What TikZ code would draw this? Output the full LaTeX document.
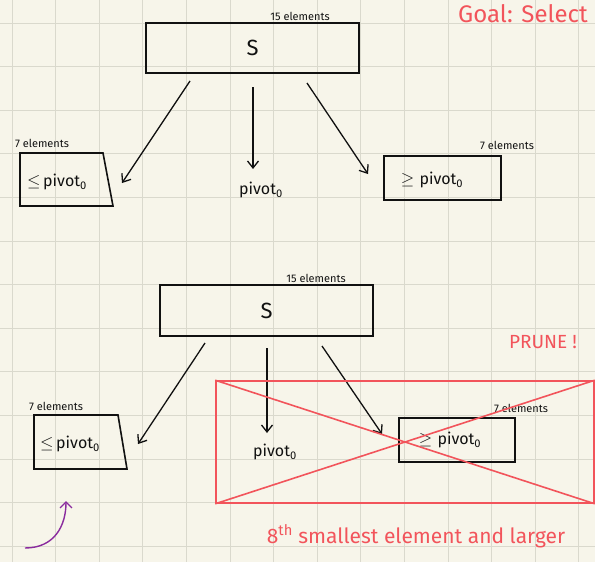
\documentclass[tikz,border=0pt]{standalone}
\usepackage{fontspec}
\setmainfont{Fira Sans}
\usetikzlibrary{arrows.meta}
\definecolor{paper}{HTML}{F7F5EA}
\definecolor{gridc}{HTML}{DAD9CD}
\definecolor{pen}{HTML}{111111}
\definecolor{marker}{HTML}{F2545B}
\definecolor{plum}{HTML}{8A2B9E}
\begin{document}
\begin{tikzpicture}[x=1pt,y=-1pt,
  box/.style={draw=pen,line width=1.6pt,inner sep=0pt},
  link/.style={draw=pen,line width=1.3pt,-{Straight Barb[length=7pt,width=11pt]}},
  note/.style={text=pen,font=\fontsize{11}{11}\selectfont,inner sep=0pt},
  label/.style={text=pen,font=\fontsize{16}{16}\selectfont,inner sep=0pt},
  bigS/.style={text=pen,font=\fontsize{22}{22}\selectfont},
  redtext/.style={text=marker,inner sep=0pt}]
% paper and grid
\useasboundingbox (0,0) rectangle (595,562);
\fill[paper] (0,0) rectangle (595,562);
\foreach \i in {0,...,13} {
  \draw[gridc,line width=1pt] ({12+43.6*\i},0) -- ({12+43.6*\i},562);
}
\foreach \j in {0,...,12} {
  \draw[gridc,line width=1pt] (0,{23+43.6*\j}) -- (595,{23+43.6*\j});
}

% ---------- first split ----------
\node[box,minimum width=213pt,minimum height=50pt,bigS] (S1) at (252.5,48) {S};
\node[note] (n1) at (300,16) {15 elements};
\node[redtext,font=\fontsize{24}{24}\selectfont,anchor=west] (goal) at (458,14) {Goal: Select};

\coordinate (a1s) at (190,81);  \coordinate (a1e) at (122,183);
\coordinate (b1s) at (253,87);  \coordinate (b1e) at (253,169);
\coordinate (c1s) at (307,83);  \coordinate (c1e) at (368,174);
\draw[link] (a1s) -- (a1e);
\draw[link] (b1s) -- (b1e);
\draw[link] (c1s) -- (c1e);

\coordinate (L1a) at (20,153); \coordinate (L1b) at (103,153);
\coordinate (L1c) at (113,206); \coordinate (L1d) at (20,206);
\draw[box,line join=miter] (L1a) -- (L1b) -- (L1c) -- (L1d) -- cycle;
\node[label] (le1) at (57,182) {$\leq$\,pivot\textsubscript{0}};
\node[note] (n2) at (42,143) {7 elements};

\node[label] (p1) at (261,190) {pivot\textsubscript{0}};

\node[box,minimum width=117pt,minimum height=44pt] (R1) at (442.5,178) {};
\node[label] (ge1) at (432,180) {$\geq$\,\,pivot\textsubscript{0}};
\node[note] (n3) at (507,145) {7 elements};

% ---------- second split ----------
\node[box,minimum width=213pt,minimum height=51pt,bigS] (S2) at (266.5,310.5) {S};
\node[note] (n4) at (316,278) {15 elements};
\node[redtext,font=\fontsize{19}{19}\selectfont] (prune) at (543,342) {PRUNE !};

\coordinate (a2s) at (205,343); \coordinate (a2e) at (138,444);
\coordinate (b2s) at (267,348); \coordinate (b2e) at (267,433);
\coordinate (c2s) at (322,346); \coordinate (c2e) at (382,434);
\draw[link] (a2s) -- (a2e);
\draw[link] (b2s) -- (b2e);
\draw[link] (c2s) -- (c2e);

\coordinate (L2a) at (34,415); \coordinate (L2b) at (118,415);
\coordinate (L2c) at (127,469); \coordinate (L2d) at (34,469);
\draw[box,line join=miter] (L2a) -- (L2b) -- (L2c) -- (L2d) -- cycle;
\node[label] (le2) at (70,444) {$\leq$\,pivot\textsubscript{0}};
\node[note] (n5) at (56,406) {7 elements};

\node[label] (p2) at (275,452) {pivot\textsubscript{0}};

\node[box,minimum width=116pt,minimum height=44pt] (R2) at (457,440) {};
\node[label] (ge2) at (450,440) {$\geq$\,\,pivot\textsubscript{0}};
\node[note] (n6) at (521,408) {7 elements};

% crossed-out region
\node[draw=marker,line width=1.6pt,minimum width=378pt,minimum height=122pt,inner sep=0pt] (cut) at (405,442) {};
\draw[marker,line width=1.6pt] (cut.north west) -- (cut.south east);
\draw[marker,line width=1.6pt] (cut.south west) -- (cut.north east);
\node[redtext,font=\fontsize{21}{21}\selectfont] (why) at (416,536) {8\textsuperscript{th} smallest element and larger};

% purple marker arrow
\coordinate (pu1) at (25,548); \coordinate (pu2) at (66,501);
\draw[plum,line width=1.4pt,-{Straight Barb[length=6pt,width=12pt]}] (pu1) .. controls (55,548) and (66,525) .. (pu2);
\end{tikzpicture}
\end{document}
